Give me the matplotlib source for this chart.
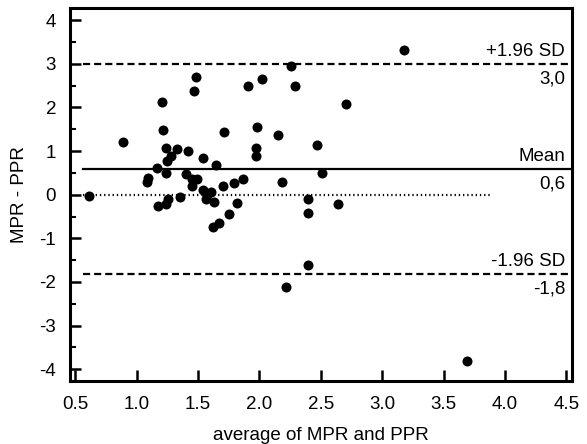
import matplotlib
matplotlib.use("Agg")
import matplotlib.pyplot as plt
from matplotlib.ticker import MultipleLocator, FormatStrFormatter

plt.rcParams['font.family'] = ['Liberation Sans', 'DejaVu Sans']
plt.rcParams['axes.unicode_minus'] = False

# average of MPR and PPR
avg = [0.612, 0.888, 1.082, 1.092, 1.164, 1.204, 1.215, 1.235, 1.245, 1.276,
       1.235, 1.327, 1.174, 1.235, 1.255, 1.357, 1.419, 1.398, 1.449, 1.490,
       1.449, 1.480, 1.470, 1.541, 1.541, 1.602, 1.562, 1.633, 1.572, 1.643,
       1.623, 1.674, 1.705, 1.715, 1.756, 1.796, 1.817, 1.868, 1.909, 1.980,
       1.970, 1.970, 2.021, 2.154, 2.184, 2.256, 2.286, 2.705, 2.470, 2.511,
       2.399, 2.399, 2.644, 2.399, 2.215, 3.175, 3.695]
# difference MPR - PPR
diff = [-0.03, 1.20, 0.30, 0.38, 0.62, 2.13, 1.49, 1.07, 0.77, 0.88,
        0.50, 1.05, -0.27, -0.21, -0.10, -0.06, 1.00, 0.47, 0.35, 0.35,
        0.20, 2.69, 2.38, 0.84, 0.10, 0.07, -0.10, -0.16, -0.01, 0.68,
        -0.75, -0.65, 0.19, 1.44, -0.44, 0.27, -0.19, 0.36, 2.49, 1.56,
        1.07, 0.88, 2.65, 1.36, 0.28, 2.96, 2.49, 2.09, 1.14, 0.50,
        -0.11, -0.43, -0.21, -1.61, -2.11, 3.31, -3.81]

mean_diff = 0.585
upper = 2.99
lower = -1.82
zero_span = [0.56, 3.88]
line_span = [0.56, 4.53]

fig = plt.figure(figsize=(5.87, 4.44), dpi=100)
ax = fig.add_axes([0.1193, 0.142, 0.855, 0.839])

ax.scatter(avg, diff, s=52, color='black', zorder=3, linewidths=0)

ax.plot(line_span, [upper, upper], color='black', lw=1.6, ls=(0, (3.2, 1.8)))
ax.plot(line_span, [lower, lower], color='black', lw=1.6, ls=(0, (3.2, 1.8)))
ax.plot(line_span, [mean_diff, mean_diff], color='black', lw=1.6)
ax.plot(zero_span, [0, 0], color='black', lw=1.6, ls=(0, (0.6, 1.3)))

fs = 13.5
tx = 4.49
ax.text(tx, upper + 0.1, '+1.96 SD', ha='right', va='bottom', fontsize=fs)
ax.text(tx, upper - 0.14, '3,0', ha='right', va='top', fontsize=fs)
ax.text(tx, mean_diff + 0.1, 'Mean', ha='right', va='bottom', fontsize=fs)
ax.text(tx, mean_diff - 0.14, '0,6', ha='right', va='top', fontsize=fs)
ax.text(tx, lower + 0.1, '-1.96 SD', ha='right', va='bottom', fontsize=fs)
ax.text(tx, lower - 0.14, '-1,8', ha='right', va='top', fontsize=fs)

ax.set_xlim(0.457, 4.546)
ax.set_ylim(-4.27, 4.27)
ax.xaxis.set_major_locator(MultipleLocator(0.5))
ax.yaxis.set_major_locator(MultipleLocator(1))
ax.yaxis.set_minor_locator(MultipleLocator(0.5))
ax.xaxis.set_major_formatter(FormatStrFormatter('%.1f'))

ax.tick_params(axis='both', which='major', direction='in', length=8, width=1.8,
               labelsize=fs, top=False, right=False)
ax.tick_params(axis='x', which='major', pad=11)
ax.tick_params(axis='y', which='major', pad=10)
ax.tick_params(axis='y', which='minor', direction='in', length=4, width=1.5, right=False)
for sp in ax.spines.values():
    sp.set_linewidth(2.2)

ax.set_xlabel('average of MPR and PPR', fontsize=fs, labelpad=10)
ax.set_ylabel('MPR - PPR', fontsize=fs, labelpad=8)

fig.savefig('out.png', dpi=100)
